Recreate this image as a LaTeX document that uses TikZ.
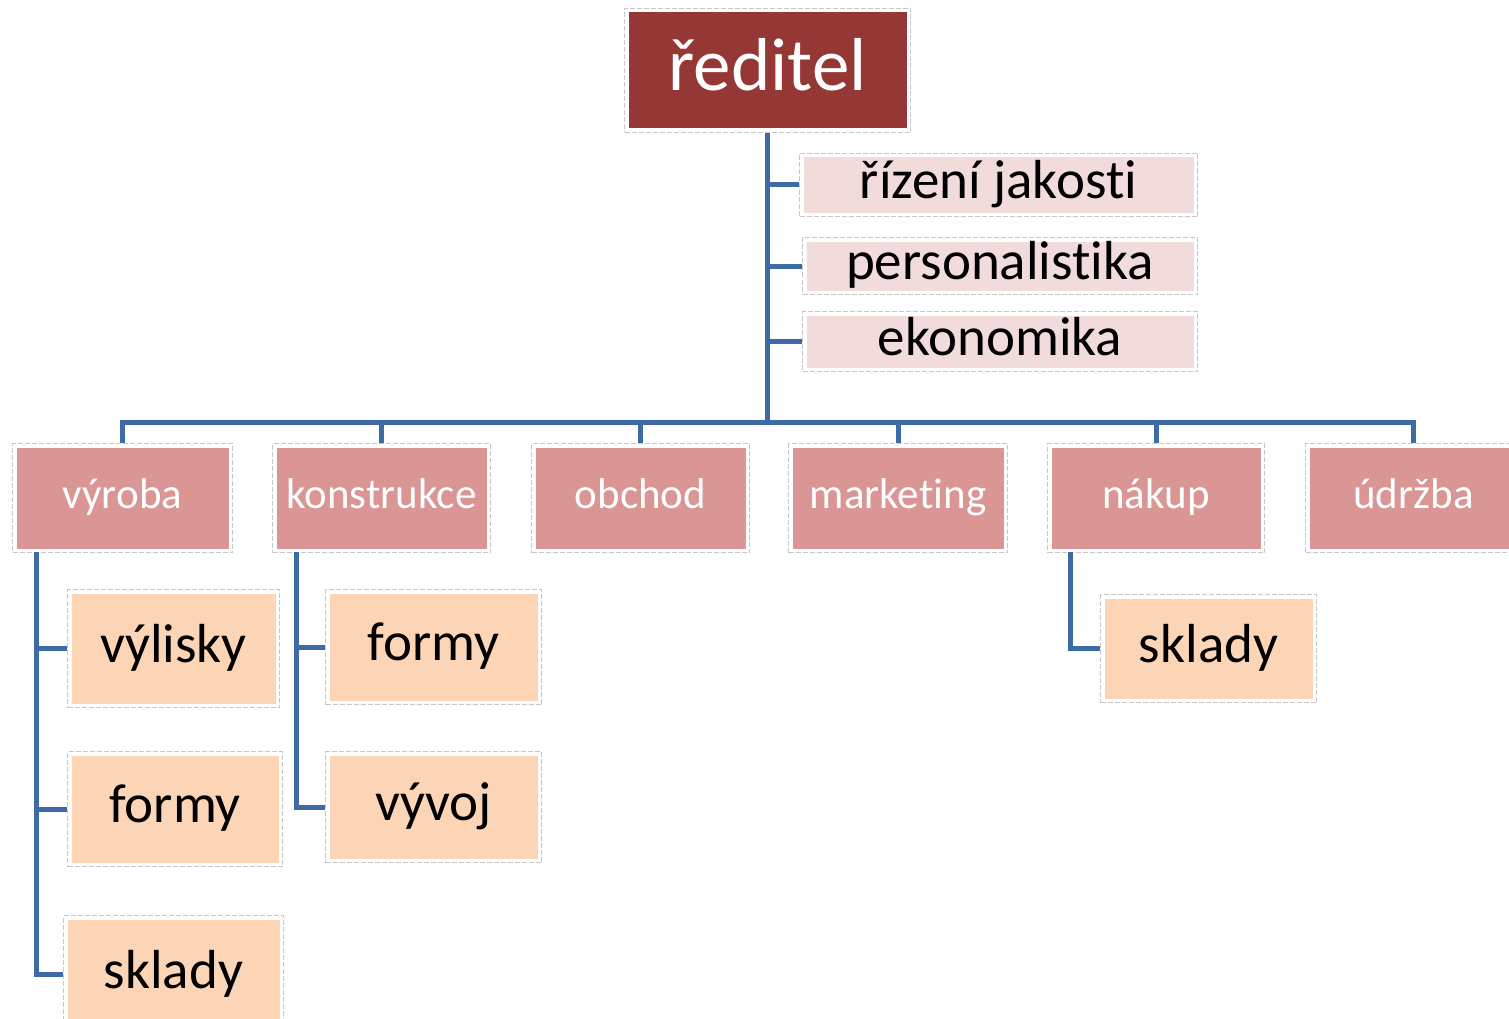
\documentclass[tikz,border=0pt]{standalone}
\usepackage{fontspec}
\setmainfont{Carlito}[Ligatures=NoCommon]
\definecolor{topred}{HTML}{953735}
\definecolor{lvtwo}{HTML}{D99694}
\definecolor{assist}{HTML}{F2DCDB}
\definecolor{lvthree}{HTML}{FBD5B5}
\definecolor{conn}{HTML}{3E6BA6}
\tikzset{
  box/.style={rectangle, anchor=north west, inner sep=0pt,
    draw=black!22, line width=1pt, dash pattern=on 5pt off 2pt, fill=white,
    path picture={\fill[#1] ([shift={(4pt,-4pt)}]path picture bounding box.north west)
       rectangle ([shift={(-4pt,4pt)}]path picture bounding box.south east);}},
  topbox/.style={box=topred, text=white, font=\fontsize{75}{80}\selectfont, text height=53pt, text depth=12pt},
  assistbox/.style={box=assist, text=black, font=\fontsize{55}{60}\selectfont, text height=38pt, text depth=11pt},
  deptbox/.style={box=lvtwo, text=white, font=\fontsize{43}{48}\selectfont, minimum height=109pt, text height=30pt, text depth=9pt},
  subbox/.style={box=lvthree, text=black, font=\fontsize{55}{60}\selectfont, text height=38pt, text depth=11pt},
  link/.style={draw=conn, line width=5pt}
}
\begin{document}
\begin{tikzpicture}[x=1pt,y=-1pt]
\clip (0,0) rectangle (1509,1019);
\fill[white] (0,0) rectangle (1509,1019);
% top
\node[topbox, minimum width=286pt, minimum height=124pt] (dir) at (624,8) {ředitel};
% assistants
\node[assistbox, minimum width=398pt, minimum height=63pt] (rj) at (799,153) {řízení jakosti};
\node[assistbox, minimum width=395pt, minimum height=57pt] (pe) at (802,237) {personalistika};
\node[assistbox, minimum width=395pt, minimum height=60pt] (ek) at (802,311) {ekonomika};
% departments
\node[deptbox, minimum width=220pt] (vyr) at (12,443) {výroba};
\node[deptbox, minimum width=218pt] (kon) at (272,443) {konstrukce};
\node[deptbox, minimum width=218pt] (obc) at (531,443) {obchod};
\node[deptbox, minimum width=219pt] (mar) at (788,443) {marketing};
\node[deptbox, minimum width=217pt] (nak) at (1047,443) {nákup};
\node[deptbox, minimum width=216pt] (udr) at (1305,443) {údržba};
% sub units
\node[subbox, minimum width=212pt, minimum height=118pt] (vyl) at (67,589) {výlisky};
\node[subbox, minimum width=215pt, minimum height=115pt] (vfo) at (67,751) {formy};
\node[subbox, minimum width=220pt, minimum height=118pt] (vsk) at (63,915) {sklady};
\node[subbox, minimum width=216pt, minimum height=115pt] (kfo) at (325,589) {formy};
\node[subbox, minimum width=216pt, minimum height=111pt] (kvy) at (325,751) {vývoj};
\node[subbox, minimum width=216pt, minimum height=108pt] (nsk) at (1100,594) {sklady};
% connector helpers
\coordinate (bus) at (767,422);
\coordinate (vtr) at (36,552);
\coordinate (ktr) at (296,552);
\coordinate (ntr) at (1070,552);
% top trunk and assistants
\draw[link] (dir.south) -- (dir.south |- bus);
\draw[link] (dir.south |- rj.west) -- (rj.west);
\draw[link] (dir.south |- pe.west) -- (pe.west);
\draw[link] (dir.south |- ek.west) -- (ek.west);
% bus
\draw[link] (vyr.north) -- (vyr.north |- bus) -- (udr.north |- bus) -- (udr.north);
\draw[link] (kon.north) -- (kon.north |- bus);
\draw[link] (obc.north) -- (obc.north |- bus);
\draw[link] (mar.north) -- (mar.north |- bus);
\draw[link] (nak.north) -- (nak.north |- bus);
% výroba subtree
\draw[link] (vtr) |- (vsk.west);
\draw[link] (vtr |- vyl.west) -- (vyl.west);
\draw[link] (vtr |- vfo.west) -- (vfo.west);
% konstrukce subtree
\draw[link] (ktr) |- (kvy.west);
\draw[link] (ktr |- kfo.west) -- (kfo.west);
% nákup subtree
\draw[link] (ntr) |- (nsk.west);
\end{tikzpicture}
\end{document}
